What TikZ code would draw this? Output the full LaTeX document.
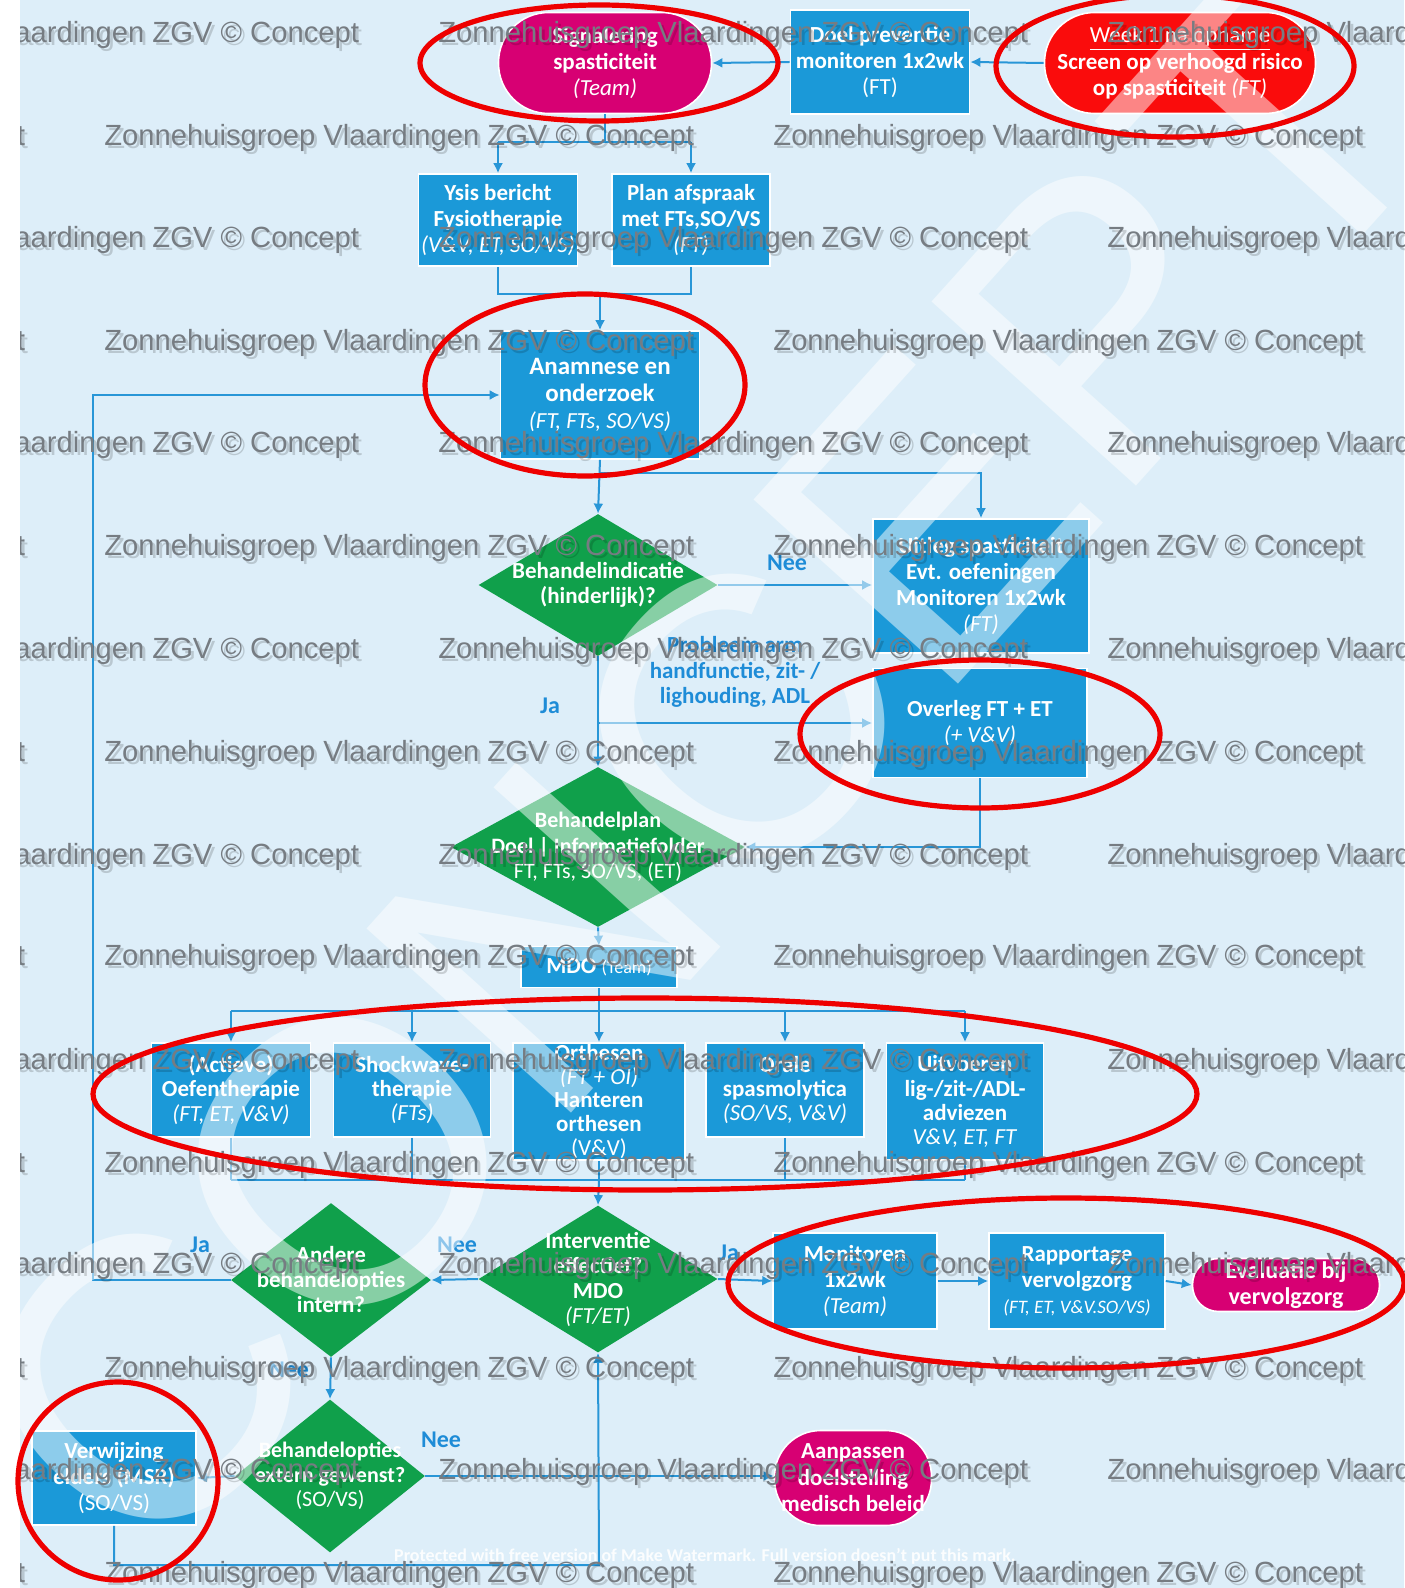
\documentclass[tikz,border=0pt]{standalone}
\usepackage{fontspec}
\setmainfont{Carlito}
\newfontfamily\wmfont{Liberation Sans}
\usetikzlibrary{shapes.geometric,arrows.meta}
\definecolor{bgc}{RGB}{221,238,249}
\definecolor{boxblue}{RGB}{27,153,216}
\definecolor{dgreen}{RGB}{16,160,75}
\definecolor{mag}{RGB}{215,0,115}
\definecolor{redfill}{RGB}{250,12,12}
\definecolor{connc}{RGB}{40,150,215}
\definecolor{lblue}{RGB}{30,140,215}
\definecolor{wmgrey}{RGB}{118,124,130}
\definecolor{ringred}{RGB}{238,0,0}
\newcommand\wmtext{Zonnehuisgroep Vlaardingen ZGV © Concept}
\begin{document}
\begin{tikzpicture}[x=0.5pt,y=-0.5pt,
 every node/.style={inner sep=0pt},
 bbox/.style={rectangle, fill=boxblue, draw=white, line width=0.8pt, text=white, align=center, font=\fontsize{11.5}{13}\selectfont},
 pill/.style={rectangle, fill=mag, draw=white, line width=0.8pt, text=white, align=center, font=\fontsize{11.5}{13.2}\selectfont},
 dia/.style={diamond, fill=dgreen, draw=none, inner sep=0pt},
 dtext/.style={text=white, align=center, font=\fontsize{11.5}{12.5}\selectfont},
 cline/.style={draw=connc, line width=1pt},
 arr/.style={draw=connc, line width=1pt, -{Latex[length=5pt,width=5pt]}},
 lab/.style={text=lblue, font=\bfseries\fontsize{12}{13}\selectfont},
 ring/.style={draw=ringred, line width=2.6pt},
 wm/.style={anchor=west, text=wmgrey, font=\wmfont\fontsize{14.6}{16}\selectfont},
 wmsh/.style={anchor=west, text=black, opacity=0.16, font=\wmfont\fontsize{14.6}{16}\selectfont},
]
\useasboundingbox (0,0) rectangle (1404,1588);
\fill[white] (0,0) rectangle (1404,1588);
\fill[bgc] (20,0) rectangle (1404,1588);

% ---------- nodes ----------
\node[pill, rounded corners=25pt, minimum width=106.5pt, minimum height=50.5pt] (sig) at (605,63)
  {\textbf{Signalering}\\\textbf{spasticiteit}\\\textit{(Team)}};
\node[bbox, minimum width=89.5pt, minimum height=52pt] (doel) at (880,62)
  {\textbf{Doel preventie}\\\textbf{monitoren 1x2wk}\\(FT)};
\node[pill, fill=redfill, rounded corners=25pt, minimum width=135.5pt, minimum height=50.5pt] (week) at (1180,63)
  {\underline{Week 1 na opname}\\\textbf{Screen op verhoogd risico}\\\textbf{op spasticiteit} \textit{(FT)}};

\node[bbox, minimum width=79.5pt, minimum height=46pt] (ysis) at (498,220)
  {\textbf{Ysis bericht}\\\textbf{Fysiotherapie}\\\textit{(V\&V, ET, SO/VS)}};
\node[bbox, minimum width=79pt, minimum height=46pt] (plan) at (691,220)
  {\textbf{Plan afspraak}\\\textbf{met FTs,SO/VS}\\\textit{(FT)}};

\node[bbox, minimum width=99.5pt, minimum height=64pt, font=\fontsize{12.5}{13.6}\selectfont] (anam) at (600,395)
  {\textbf{Anamnese en}\\\textbf{onderzoek}\\{\fontsize{11.5}{13}\selectfont\textit{(FT, FTs, SO/VS)}}};

\node[dia, minimum width=119.5pt, minimum height=71pt] (bi) at (598,585) {};
\node[dtext] at (bi) {\textbf{Behandelindicatie}\\\textbf{(hinderlijk)?}};

\node[bbox, minimum width=108pt, minimum height=67pt] (uitleg) at (981,586)
  {\textbf{Uitleg spasticiteit}\\\textbf{Evt. oefeningen}\\\textbf{Monitoren 1x2wk}\\\textit{(FT)}};
\node[bbox, minimum width=107pt, minimum height=54.5pt] (overleg) at (980,723)
  {\textbf{Overleg FT + ET}\\\textit{(+ V\&V)}};

\node[lab, align=center, font=\bfseries\fontsize{11.5}{12.6}\selectfont] (prob) at (735,672)
  {Probleem arm\\handfunctie, zit- /\\lighouding, ADL};
\node[lab] (nee1) at (787,563) {Nee};
\node[lab] (ja1) at (550,706) {Ja};

\node[dia, minimum width=147pt, minimum height=80pt] (bp) at (598,847) {};
\node[dtext, font=\fontsize{11}{12.6}\selectfont] at (bp) {\textbf{Behandelplan}\\\textbf{Doel | Informatiefolder}\\FT, FTs, SO/VS, (ET)};

\node[bbox, minimum width=78pt, minimum height=20.5pt] (mdo) at (599,967)
  {\textbf{MDO} {\fontsize{9}{10}\selectfont(Team)}};

\node[bbox, minimum width=79.5pt, minimum height=47pt, font=\fontsize{11.5}{12.2}\selectfont] (oef) at (231,1090)
  {\textbf{(Actieve)}\\\textbf{Oefentherapie}\\\textit{(FT, ET, V\&V)}};
\node[bbox, minimum width=78.5pt, minimum height=47pt, font=\fontsize{11.5}{12.2}\selectfont] (shock) at (412,1090)
  {\textbf{Shockwave-}\\\textbf{therapie}\\\textit{(FTs)}};
\node[bbox, minimum width=86pt, minimum height=58.5pt, font=\fontsize{11.5}{11.9}\selectfont] (orth) at (599,1101.5)
  {\textbf{Orthesen}\\\textit{(FT + OI)}\\\textbf{Hanteren}\\\textbf{orthesen}\\(V\&V)};
\node[bbox, minimum width=79pt, minimum height=47pt, font=\fontsize{11.5}{12.2}\selectfont] (orale) at (785,1090)
  {\textbf{Orale}\\\textbf{spasmolytica}\\\textit{(SO/VS, V\&V)}};
\node[bbox, minimum width=78.5pt, minimum height=58.5pt, font=\fontsize{11.5}{12.1}\selectfont] (uitv) at (965,1101.5)
  {\textbf{Uitvoeren}\\\textbf{lig-/zit-/ADL-}\\\textbf{adviezen}\\\textit{V\&V, ET, FT}};

\node[dia, minimum width=119.5pt, minimum height=73.5pt] (inter) at (598,1279) {};
\node[dtext, font=\fontsize{11.5}{12.5}\selectfont] at (inter) {\textbf{Interventie}\\\textbf{effectief?}\\\textbf{MDO}\\\textit{(FT/ET)}};
\node[dia, minimum width=100pt, minimum height=77pt] (andere) at (331,1280) {};
\node[dtext] at (andere) {\textbf{Andere}\\\textbf{behandelopties}\\\textbf{intern?}};

\node[bbox, minimum width=82pt, minimum height=48pt] (mon) at (855,1281)
  {\textbf{Monitoren}\\\textbf{1x2wk}\\\textit{(Team)}};
\node[bbox, minimum width=88pt, minimum height=48pt] (rap) at (1077,1281)
  {\textbf{Rapportage}\\\textbf{vervolgzorg}\\{\fontsize{9.5}{11}\selectfont\textit{(FT, ET, V\&V.SO/VS)}}};
\node[pill, rounded corners=13pt, minimum width=93.5pt, minimum height=26.5pt, font=\fontsize{12}{13}\selectfont] (eval) at (1286,1285)
  {\textbf{Evaluatie bij}\\\textbf{vervolgzorg}};

\node[lab] (nee2) at (457,1245) {Nee};
\node[lab] (ja2) at (200,1245) {Ja};
\node[lab] (ja3) at (729,1253) {Ja};
\node[lab] (nee3) at (289,1370) {Nee};
\node[lab] (nee4) at (441,1440) {Nee};

\node[dia, minimum width=95pt, minimum height=76.5pt] (ext) at (330,1476) {};
\node[dtext, font=\fontsize{11}{12.2}\selectfont] at (ext) {\textbf{Behandelopties}\\\textbf{extern gewenst?}\\(SO/VS)};
\node[bbox, minimum width=82pt, minimum height=47pt] (verw) at (114,1478)
  {\textbf{Verwijzing}\\\textbf{elders (MSR)}\\(SO/VS)};
\node[pill, rounded corners=23pt, minimum width=78.5pt, minimum height=47.5pt] (aanp) at (853,1478)
  {\textbf{Aanpassen}\\\textbf{doelstelling}\\\textbf{medisch beleid}};

% ---------- connectors ----------
\draw[arr] (doel.west) -- (sig.east);
\draw[arr] (week.west) -- (doel.east);
\coordinate (s1) at (605,142);
\draw[cline] (sig.south) -- (s1);
\draw[cline] (s1 -| ysis.north) -- (s1 -| plan.north);
\draw[arr] (s1 -| ysis.north) -- (ysis.north);
\draw[arr] (s1 -| plan.north) -- (plan.north);
\coordinate (m1) at (600,294);
\draw[cline] (ysis.south) -- (m1 -| ysis.south) -- (m1 -| plan.south) -- (plan.south);
\draw[arr] (m1) -- (anam.north);
\coordinate (lp1) at (93,1280);
\coordinate (lp2) at (93,395);
\draw[arr] (andere.west) -- (lp1) -- (lp2) -- (anam.west);
\draw[arr] (anam.south) -- (bi.north);
\coordinate (br1) at (599,473);
\draw[arr] (br1) -- (br1 -| uitleg.north) -- (uitleg.north);
\draw[arr] (bi.east) -- (bi.east -| uitleg.west);
\draw[arr] (bi.south) -- (bp.north);
\coordinate (ja1c) at (598,723);
\draw[arr] (ja1c) -- (overleg.west);
\coordinate (ov1) at (980,847);
\draw[arr] (overleg.south) -- (ov1) -- (bp.east);
\draw[arr] (bp.south) -- (mdo.north);
\coordinate (d1) at (599,1011);
\draw[cline] (mdo.south) -- (d1);
\draw[cline] (d1 -| oef.north) -- (d1 -| uitv.north);
\foreach \b in {oef,shock,orth,orale,uitv} {\draw[arr] (d1 -| \b.north) -- (\b.north);}
\coordinate (c1) at (599,1180);
\draw[cline] (c1 -| oef.south) -- (c1 -| uitv.south);
\foreach \b in {oef,shock,orth,orale,uitv} {\draw[cline] (\b.south) -- (c1 -| \b.south);}
\draw[arr] (c1) -- (inter.north);
\draw[arr] (inter.west) -- (andere.east);
\draw[arr] (inter.east) -- (mon.west);
\draw[arr] (mon.east) -- (rap.west);
\draw[arr] (rap.east) -- (eval.west);
\draw[arr] (andere.south) -- (ext.north);
\draw[arr] (ext.west) -- (verw.east);
\draw[arr] (ext.east) -- (ext.east -| aanp.west);
\coordinate (b1) at (114,1565);
\coordinate (b2) at (599,1565);
\draw[arr] (verw.south) -- (b1) -- (b2) -- (inter.south);

% ---------- big CONCEPT watermark ----------
\node[rotate=48, text=white, opacity=0.5, font=\wmfont\fontsize{200}{200}\selectfont] (bigc) at (700,765) {CONCEPT};

% ---------- text watermark rows ----------
\begin{scope}
\clip (20,0) rectangle (1404,1588);
\foreach \yy in {35,240,445,651,857,1062,1266,1472} {
  \foreach \xx in {-231,438,1107} {
    \node[wmsh] at (\xx+3,\yy+3) {\wmtext};
    \node[wm] at (\xx,\yy) {\wmtext};
  }
}
\foreach \yy in {138,343,548,754,958,1165,1370,1575} {
  \foreach \xx in {-565,104,773} {
    \node[wmsh] at (\xx+3,\yy+3) {\wmtext};
    \node[wm] at (\xx,\yy) {\wmtext};
  }
}
\end{scope}

% ---------- red rings ----------
\draw[ring] (599,63) ellipse [x radius=179, y radius=58];
\draw[ring] (1175,66) ellipse [x radius=179, y radius=71];
\draw[ring] (585,385) ellipse [x radius=160, y radius=91];
\draw[ring] (980,734) ellipse [x radius=180, y radius=74];
\draw[ring] (645,1094) ellipse [x radius=552, y radius=96];
\draw[ring] (1066,1283) ellipse [x radius=338, y radius=85];
\draw[ring] (118,1481) ellipse [x radius=100, y radius=99];

\node[text=white, opacity=0.9, font=\bfseries\fontsize{9}{10}\selectfont] (prot) at (705,1556)
  {Protected with free version of Make Watermark. Full version doesn't put this mark.};
\end{tikzpicture}
\end{document}
